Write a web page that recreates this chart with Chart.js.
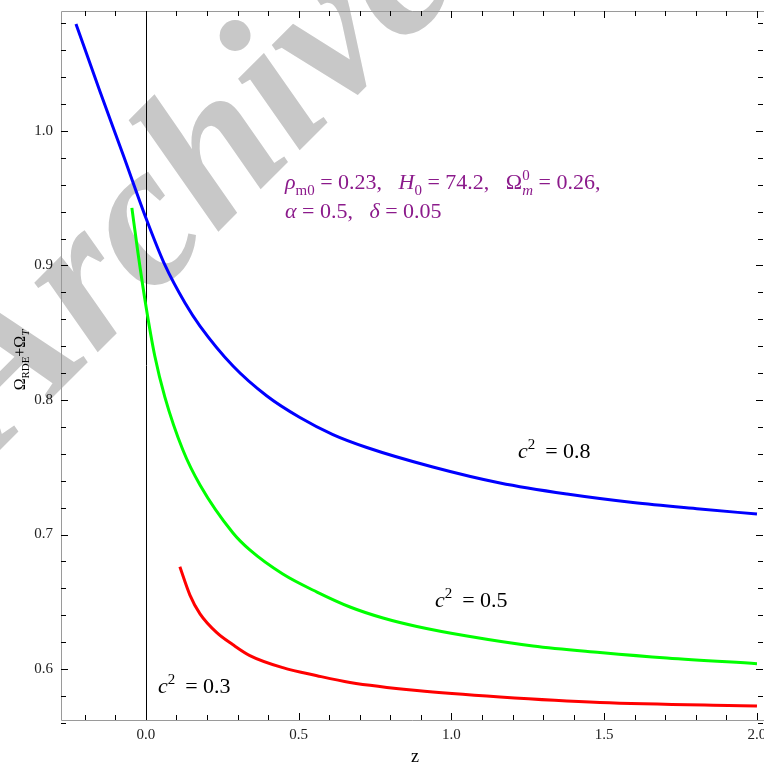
<!DOCTYPE html>
<html>
<head>
<meta charset="utf-8">
<script src="https://cdn.jsdelivr.net/npm/chart.js@4/dist/chart.umd.min.js"></script>
<style>
  html, body { margin: 0; padding: 0; background: #fff; }
  #wrap { width: 764px; height: 768px; }
</style>
</head>
<body>
<div id="wrap"><canvas id="chart" width="764" height="768"></canvas></div>
<script>
// --- Data ---
const zBlue = [-0.229, -0.151, -0.072, 0, 0.062, 0.128, 0.177, 0.285, 0.396, 0.504, 0.612, 0.723, 0.939, 1.159, 1.378, 1.594, 1.813, 2.0];
const yBlue = [1.0796, 1.0297, 0.9807, 0.9353, 0.9004, 0.8721, 0.8550, 0.8253, 0.8030, 0.7870, 0.7743, 0.7647, 0.7502, 0.7383, 0.7301, 0.7238, 0.7190, 0.7152];

const zGreen = [-0.046, -0.026, 0, 0.029, 0.062, 0.121, 0.177, 0.285, 0.340, 0.448, 0.560, 0.668, 0.776, 0.887, 1.051, 1.267, 1.486, 1.705, 2.0];
const yGreen = [0.9428, 0.9093, 0.8699, 0.8327, 0.8022, 0.7628, 0.7368, 0.7011, 0.6885, 0.6706, 0.6572, 0.6461, 0.6379, 0.6316, 0.6245, 0.6171, 0.6123, 0.6082, 0.6040];

const zRed = [0.111, 0.144, 0.177, 0.232, 0.285, 0.340, 0.448, 0.560, 0.668, 0.887, 1.159, 1.486, 2.0];
const yRed = [0.676, 0.655, 0.641, 0.627, 0.618, 0.610, 0.601, 0.595, 0.590, 0.584, 0.5792, 0.5751, 0.5725];

const xMajorTicks = [0.0, 0.5, 1.0, 1.5, 2.0];
const xMinorTicks = [-0.2, -0.1, 0.1, 0.2, 0.3, 0.4, 0.6, 0.7, 0.8, 0.9, 1.1, 1.2, 1.3, 1.4, 1.6, 1.7, 1.8, 1.9];
const yMajorTicks = [0.6, 0.7, 0.8, 0.9, 1.0];
const yMinorTicks = [0.56, 0.58, 0.62, 0.64, 0.66, 0.68, 0.72, 0.74, 0.76, 0.78, 0.82, 0.84, 0.86, 0.88,
                     0.92, 0.94, 0.96, 0.98, 1.02, 1.04, 1.06, 1.08];

const FONT = '"Liberation Serif", "Times New Roman", serif';

function toPoints(xs, ys) {
    return xs.map((x, i) => ({ x: x, y: ys[i] }));
}

// --- Rich text helper (italics, sub/superscripts) ---
// flags: i = italic, b = subscript, p = superscript, k = keep x (stack next part)
function richText(ctx, x, y, parts, size, draw) {
    let cx = x;
    let keepW = 0;
    parts.forEach(([txt, st]) => {
        const italic = st.includes('i');
        const sub = st.includes('b');
        const sup = st.includes('p');
        const fs = (sub || sup) ? size * 0.68 : size;
        ctx.font = (italic ? 'italic ' : '') + fs + 'px ' + FONT;
        const dy = sub ? size * 0.28 : (sup ? -size * 0.42 : 0);
        const w = ctx.measureText(txt).width;
        if (draw) ctx.fillText(txt, cx, y + dy);
        if (st.includes('k')) {
            keepW = w;
        } else {
            cx += Math.max(w, keepW);
            keepW = 0;
        }
    });
    return cx - x;
}

// --- Plugins ---
const watermarkPlugin = {
    id: 'watermark',
    beforeDraw(chart) {
        const ctx = chart.ctx;
        ctx.save();
        ctx.translate(-2, 452);
        ctx.rotate(-45 * Math.PI / 180);
        ctx.font = 'italic bold 205px ' + FONT;
        ctx.fillStyle = '#c8c8c8';
        ctx.textBaseline = 'alphabetic';
        ctx.fillText('Archive', 0, 0);
        ctx.restore();
    }
};

const framePlugin = {
    id: 'frame',
    beforeDatasetsDraw(chart) {
        const ctx = chart.ctx;
        const area = chart.chartArea;
        const xs = chart.scales.x;
        const ys = chart.scales.y;
        ctx.save();

        // frame: left, bottom, top
        ctx.strokeStyle = '#9a9a9a';
        ctx.lineWidth = 1;
        ctx.beginPath();
        ctx.moveTo(area.right, area.top + 0.5);
        ctx.lineTo(area.left + 0.5, area.top + 0.5);
        ctx.lineTo(area.left + 0.5, area.bottom + 0.5);
        ctx.lineTo(area.right, area.bottom + 0.5);
        ctx.stroke();

        // ticks
        ctx.strokeStyle = '#000';
        const tick = (x1, y1, x2, y2) => {
            ctx.beginPath();
            ctx.moveTo(x1, y1);
            ctx.lineTo(x2, y2);
            ctx.stroke();
        };
        const xt = (list, len) => list.forEach(v => {
            const px = Math.round(xs.getPixelForValue(v)) + 0.5;
            tick(px, area.bottom, px, area.bottom - len);
            tick(px, area.top, px, area.top + len);
        });
        const yt = (list, len) => list.forEach(v => {
            const py = Math.round(ys.getPixelForValue(v)) + 0.5;
            tick(area.left, py, area.left + len, py);
            tick(area.right - 1, py, area.right - 1 - len, py);
        });
        xt(xMajorTicks, 7);
        xt(xMinorTicks, 5);
        yt(yMajorTicks, 7);
        yt(yMinorTicks, 5);

        // vertical line at z = 0
        const x0 = Math.round(xs.getPixelForValue(0)) + 0.5;
        tick(x0, area.top, x0, area.bottom);
        ctx.restore();
    },
    afterDatasetsDraw(chart) {
        const ctx = chart.ctx;
        ctx.save();
        ctx.textBaseline = 'alphabetic';
        ctx.textAlign = 'left';

        // curve labels
        ctx.fillStyle = '#000';
        richText(ctx, 518, 458, [['c', 'i'], ['2', 'p'], [' \u2009= 0.8', '']], 22, true);
        richText(ctx, 435, 607, [['c', 'i'], ['2', 'p'], [' \u2009= 0.5', '']], 22, true);
        richText(ctx, 158, 693, [['c', 'i'], ['2', 'p'], [' \u2009= 0.3', '']], 22, true);

        // parameter text
        ctx.fillStyle = '#8b1a8b';
        richText(ctx, 285, 189, [
            ['\u03C1', 'i'], ['m0', 'b'], [' = 0.23,   ', ''],
            ['H', 'i'], ['0', 'b'], [' = 74.2,   ', ''],
            ['\u03A9', ''], ['m', 'ibk'], ['0', 'p'], [' = 0.26,', '']
        ], 22, true);
        richText(ctx, 285, 218, [
            ['\u03B1', 'i'], [' = 0.5,   ', ''], ['\u03B4', 'i'], [' = 0.05', '']
        ], 22, true);

        // axis titles
        ctx.fillStyle = '#000';
        ctx.font = '18px ' + FONT;
        ctx.textAlign = 'center';
        ctx.fillText('z', 415, 762);

        ctx.textAlign = 'left';
        const yParts = [['\u03A9', ''], ['RDE', 'b'], ['+', ''], ['\u03A9', ''], ['T', 'ib']];
        const w = richText(ctx, 0, 0, yParts, 16, false);
        ctx.translate(25, 360);
        ctx.rotate(-Math.PI / 2);
        richText(ctx, -w / 2, 0, yParts, 16, true);
        ctx.restore();
    }
};

// --- Chart ---
const ctx = document.getElementById('chart').getContext('2d');
const lineStyle = { showLine: true, pointRadius: 0, borderWidth: 3, cubicInterpolationMode: 'monotone', fill: false };

new Chart(ctx, {
    type: 'scatter',
    data: {
        datasets: [
            Object.assign({ label: 'c2 = 0.8', data: toPoints(zBlue, yBlue), borderColor: '#0000ff' }, lineStyle),
            Object.assign({ label: 'c2 = 0.5', data: toPoints(zGreen, yGreen), borderColor: '#00ff00' }, lineStyle),
            Object.assign({ label: 'c2 = 0.3', data: toPoints(zRed, yRed), borderColor: '#ff0000' }, lineStyle)
        ]
    },
    options: {
        responsive: false,
        animation: false,
        events: [],
        layout: { padding: { top: 11, right: 0, left: 0, bottom: 0 } },
        plugins: { legend: { display: false }, tooltip: { enabled: false } },
        scales: {
            x: {
                type: 'linear', min: -0.278, max: 2.023,
                grid: { display: false, drawTicks: false },
                border: { display: false },
                afterBuildTicks: s => { s.ticks = xMajorTicks.map(v => ({ value: v })); },
                afterFit: s => { s.height = 48; s.paddingLeft = 0; s.paddingRight = 0; },
                ticks: {
                    padding: 6, color: '#222', maxRotation: 0, autoSkip: false,
                    font: { family: FONT, size: 15 },
                    callback: v => v.toFixed(1)
                }
            },
            y: {
                type: 'linear', min: 0.5621, max: 1.0892,
                grid: { display: false, drawTicks: false },
                border: { display: false },
                afterBuildTicks: s => { s.ticks = yMajorTicks.map(v => ({ value: v })); },
                afterFit: s => { s.width = 61; s.paddingTop = 0; s.paddingBottom = 0; },
                ticks: {
                    padding: 8, color: '#222', autoSkip: false,
                    font: { family: FONT, size: 15 },
                    callback: v => v.toFixed(1)
                }
            }
        }
    },
    plugins: [watermarkPlugin, framePlugin]
});
</script>
</body>
</html>
